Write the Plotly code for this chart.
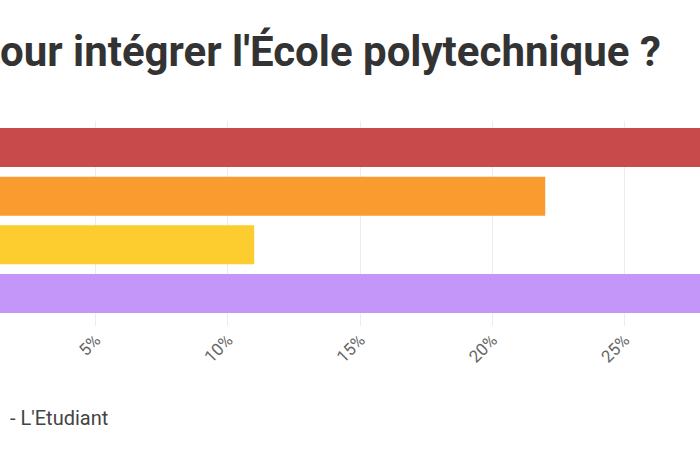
import plotly.graph_objects as go

categories = ["MP", "PC", "PSI", "Autres"]
values = [33.0, 22.0, 11.0, 34.0]
colors = ["#C94A4B", "#FA9B2F", "#FDCC2F", "#C596FA"]
tick_vals = [0, 5, 10, 15, 20, 25, 30]
tick_text = ["0%", "5%", "10%", "15%", "20%", "25%", "30%"]
title_text = "our intégrer l'École polytechnique ?"
source_text = "- L'Etudiant"

fig = go.Figure(go.Bar(
    x=values, y=categories, orientation="h",
    marker=dict(color=colors, line=dict(width=0)),
    hoverinfo="x+y",
))

fig.update_layout(
    width=700, height=450,
    margin=dict(l=0, r=0, t=121, b=124, autoexpand=False),
    paper_bgcolor="white", plot_bgcolor="white",
    bargap=0.2,
    showlegend=False,
    title=dict(text=title_text, x=0.0, xref="container", xanchor="left",
               y=1 - 51 / 450, yref="container", yanchor="middle",
               font=dict(family="Roboto", size=42, color="#333333", weight="bold")),
    xaxis=dict(range=[1.39, 27.85], tickvals=tick_vals, ticktext=tick_text,
               tickangle=-45, showgrid=True, gridcolor="#ECECEC", gridwidth=1,
               zeroline=False, showline=False, ticks="", automargin=False,
               tickfont=dict(family="Roboto", size=17, color="#666666")),
    yaxis=dict(categoryorder="array", categoryarray=categories,
               range=[3.668, -0.545], showticklabels=False, showgrid=False,
               zeroline=False, automargin=False),
    annotations=[dict(text=source_text, xref="paper", yref="paper",
                      x=8 / 700, xanchor="left", y=(326 - 418) / 205, yanchor="middle",
                      showarrow=False,
                      font=dict(family="Roboto", size=20, color="#444444"))],
)

fig.write_html("out.html", config={"displayModeBar": False},
               post_script="document.body.style.margin='0';document.body.style.padding='0';")
